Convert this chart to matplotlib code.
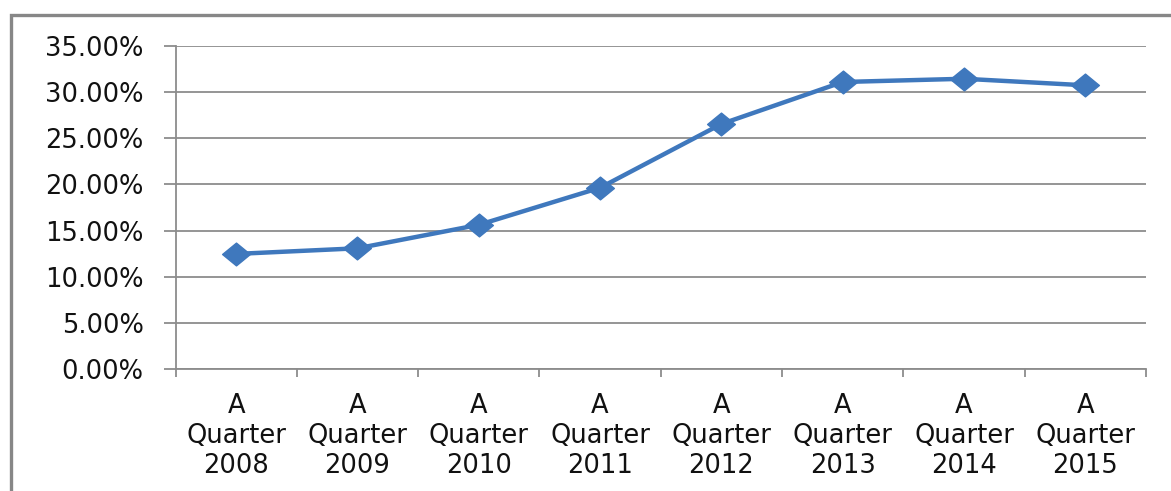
import matplotlib
matplotlib.use("Agg")
import matplotlib.pyplot as plt
from matplotlib.patches import Rectangle
from matplotlib.path import Path
import numpy as np

categories = ["A\nQuarter\n2008", "A\nQuarter\n2009", "A\nQuarter\n2010", "A\nQuarter\n2011",
              "A\nQuarter\n2012", "A\nQuarter\n2013", "A\nQuarter\n2014", "A\nQuarter\n2015"]
values = [12.47, 13.08, 15.62, 19.64, 26.55, 31.1, 31.45, 30.74]
yticks = [0, 5, 10, 15, 20, 25, 30, 35]
ytick_labels = ["0.00%", "5.00%", "10.00%", "15.00%", "20.00%", "25.00%", "30.00%", "35.00%"]

W, H = 1171, 491
fig = plt.figure(figsize=(W / 100, H / 100), dpi=100)
plt.rcParams['font.family'] = ['DejaVu Sans']

# outer chart border (extends past right/bottom edges)
fig.patches.append(Rectangle((11 / W, -0.05), 1.2, 1 - 15 / H + 0.05,
                             transform=fig.transFigure, fill=False,
                             edgecolor="#878787", linewidth=2.4))

ax = fig.add_axes([175.5 / W, 1 - 369 / H, (1146 - 175.5) / W, (369 - 46) / H])
ax.set_facecolor("white")

x = np.arange(1, len(values) + 1)
diamond = Path([(-1, 0), (0, 0.82), (1, 0), (0, -0.82), (-1, 0)],
               [Path.MOVETO, Path.LINETO, Path.LINETO, Path.LINETO, Path.CLOSEPOLY])
ax.plot(x, values, color="#3F78BD", linewidth=3.2, marker=diamond,
        markersize=20, markerfacecolor="#3F78BD", markeredgecolor="#3F78BD",
        zorder=3, solid_joinstyle="round")

ax.set_xlim(0.5, len(values) + 0.5)
ax.set_ylim(0, 35)

gc = "#8C8C8C"
ax.set_yticks(yticks)
ax.set_yticklabels(ytick_labels)
ax.grid(axis="y", color=gc, linewidth=1.3)
ax.set_axisbelow(True)

ax.set_xticks(np.arange(0.5, len(values) + 1, 1))
ax.set_xticklabels([])
ax.set_xticks(x, minor=True)
ax.set_xticklabels(categories, minor=True)
ax.tick_params(axis="x", which="major", length=5.5, width=1.3, color=gc, direction="out")
ax.tick_params(axis="x", which="minor", length=0, pad=17, labelsize=18.5, labelcolor="#111111")
ax.tick_params(axis="y", length=9, width=1.3, color=gc, direction="out", pad=14,
               labelsize=18.5, labelcolor="#111111")

for s in ["top", "right"]:
    ax.spines[s].set_visible(False)
for s in ["left", "bottom"]:
    ax.spines[s].set_color(gc)
    ax.spines[s].set_linewidth(1.3)

fig.savefig("out.png", dpi=100, facecolor="white")
